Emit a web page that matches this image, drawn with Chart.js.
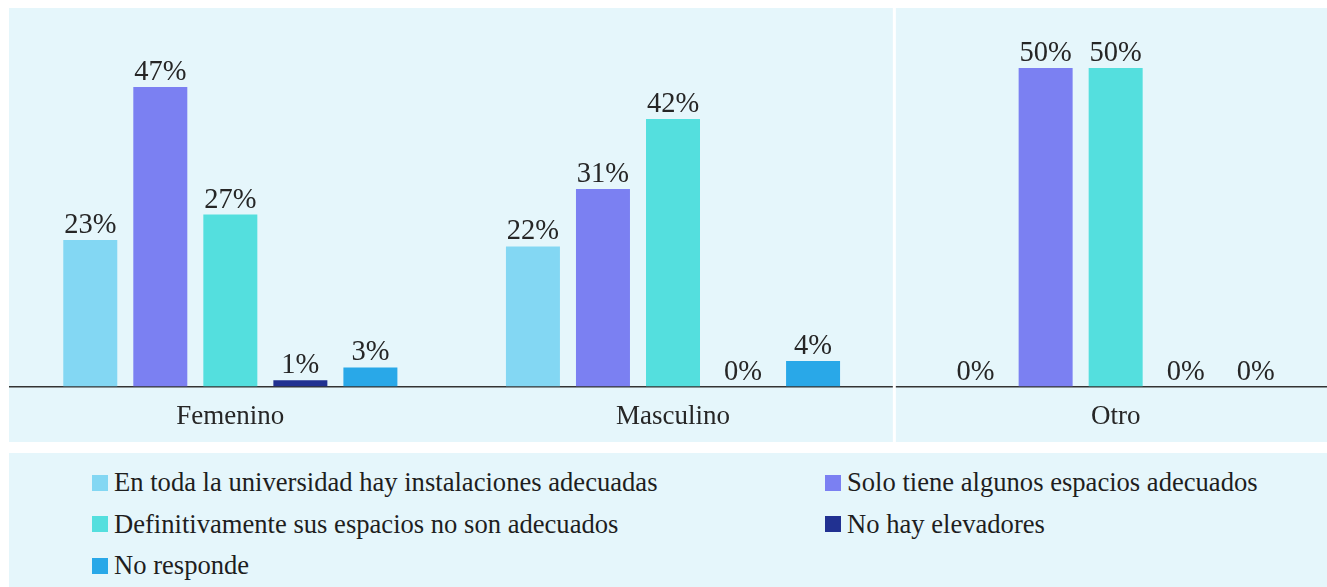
<!DOCTYPE html>
<html lang="es">
<head>
<meta charset="utf-8">
<script src="https://cdn.jsdelivr.net/npm/chart.js@4/dist/chart.umd.min.js"></script>
<style>
  html, body { margin: 0; padding: 0; background: #ffffff; width: 1327px; height: 587px; overflow: hidden; }
  #plotPanel { position: absolute; left: 9px; top: 8px; width: 1330px; height: 434px; background: #e5f6fb; overflow: hidden; }
  #legendPanel { position: absolute; left: 9px; top: 453px; width: 1330px; height: 140px; background: #e5f6fb; }
  #legend { position: absolute; left: 83px; top: 9px; display: grid; grid-template-columns: 733px 500px; }
  .item { display: flex; align-items: center; height: 41.5px; font: 26.6px "Liberation Serif", "Times New Roman", serif; color: #1e1e1e; white-space: nowrap; }
  .swatch { width: 16px; height: 16px; margin-right: 6px; flex: none; }
</style>
</head>
<body>
<div id="plotPanel"><canvas id="chart" width="1328" height="450"></canvas></div>
<div id="legendPanel"><div id="legend"></div></div>
<script>
// categories and survey answers (percent)
const categories = ["Femenino", "Masculino", "Otro"];
const seriesNames = [
    "En toda la universidad hay instalaciones adecuadas",
    "Solo tiene algunos espacios adecuados",
    "Definitivamente sus espacios no son adecuados",
    "No hay elevadores",
    "No responde"
];
const todaUniversidad = [23, 22, 0];
const algunosEspacios = [47, 31, 50];
const noAdecuados = [27, 42, 50];
const noElevadores = [1, 0, 0];
const noResponde = [3, 4, 0];
const seriesColors = ["#83d7f3", "#7b80f2", "#54dfde", "#213191", "#29a8e8"];

const allSeries = [todaUniversidad, algunosEspacios, noAdecuados, noElevadores, noResponde];
const serifFont = '"Liberation Serif", "Times New Roman", serif';

// value labels above each bar
const barLabels = {
    id: "barLabels",
    afterDatasetsDraw(chart) {
        const ctx = chart.ctx;
        ctx.save();
        ctx.font = "28.5px " + serifFont;
        ctx.fillStyle = "#262626";
        ctx.textAlign = "center";
        ctx.textBaseline = "alphabetic";
        chart.data.datasets.forEach((ds, i) => {
            chart.getDatasetMeta(i).data.forEach((bar, j) => {
                ctx.fillText(ds.data[j] + "%", bar.x, bar.y - 7);
            });
        });
        ctx.restore();
    }
};

// white divider between "Masculino" and "Otro"
const divider = {
    id: "divider",
    beforeDatasetsDraw(chart) {
        const x = chart.scales.x;
        const px = (x.getPixelForValue(1) + x.getPixelForValue(2)) / 2;
        const ctx = chart.ctx;
        ctx.save();
        ctx.strokeStyle = "#ffffff";
        ctx.lineWidth = 3;
        ctx.beginPath();
        ctx.moveTo(px, 0);
        ctx.lineTo(px, chart.height);
        ctx.stroke();
        ctx.restore();
    }
};

const chart = new Chart(document.getElementById("chart"), {
    type: "bar",
    data: {
        labels: categories,
        datasets: allSeries.map((values, i) => ({
            label: seriesNames[i],
            data: values,
            backgroundColor: seriesColors[i],
            categoryPercentage: 0.791,
            barPercentage: 0.771
        }))
    },
    options: {
        responsive: false,
        animation: false,
        layout: { padding: { top: 60, bottom: 11, left: 0, right: 0 } },
        plugins: {
            legend: { display: false },
            tooltip: { enabled: false }
        },
        scales: {
            x: {
                grid: { display: true, color: "rgba(0,0,0,0)", drawTicks: false },
                border: { display: true, color: "#333333", width: 1.5 },
                ticks: { color: "#262626", padding: 14, font: { family: serifFont, size: 27 } }
            },
            y: {
                display: false,
                min: 0,
                max: 50
            }
        }
    },
    plugins: [divider, barLabels]
});

// legend in two columns
const legend = document.getElementById("legend");
chart.data.datasets.forEach(ds => {
    const item = document.createElement("div");
    item.className = "item";
    const sw = document.createElement("span");
    sw.className = "swatch";
    sw.style.background = ds.backgroundColor;
    item.appendChild(sw);
    item.appendChild(document.createTextNode(ds.label));
    legend.appendChild(item);
});
</script>
</body>
</html>
